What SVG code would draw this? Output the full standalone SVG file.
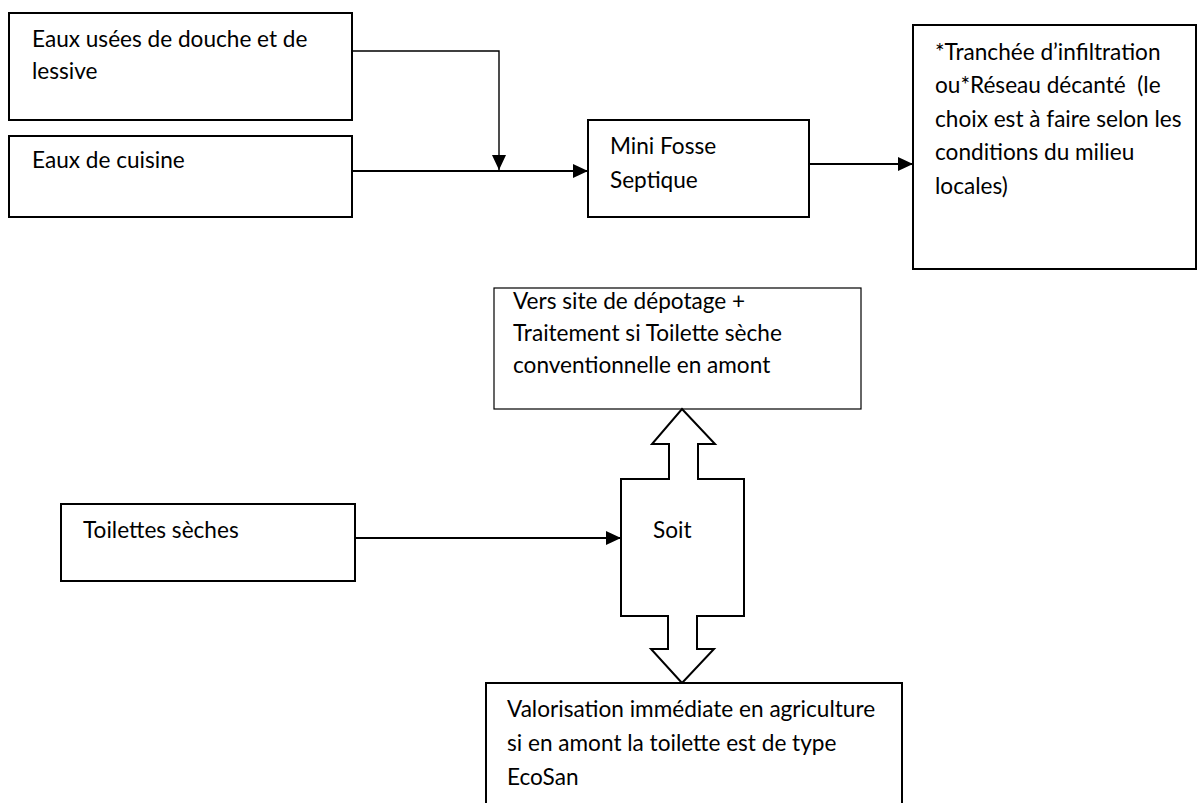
<svg xmlns="http://www.w3.org/2000/svg" width="1198" height="803" viewBox="0 0 1198 803">
  <style>
    .box { fill: #ffffff; stroke: #000000; stroke-width: 2; }
    .thin { fill: #ffffff; stroke: #000000; stroke-width: 1.2; }
    .lbl { font-family: Lato, "Liberation Sans", sans-serif; font-size: 22.6px; fill: #000000; }
    .conn { fill: none; stroke: #000000; stroke-width: 2; }
  </style>
  <defs>
    <marker id="arr" viewBox="0 0 15 14" refX="15" refY="7" markerWidth="15" markerHeight="14" markerUnits="userSpaceOnUse" orient="auto">
      <path d="M0,0 L15,7 L0,14 Z" fill="#000000"/>
    </marker>
  </defs>
  <rect width="1198" height="803" fill="#ffffff"/>

  <g id="connectors">
    <path class="conn" style="stroke-width:1.4" d="M352,51 H499 V170" marker-end="url(#arr)"/>
    <path class="conn" d="M352,171 H588" marker-end="url(#arr)"/>
    <path class="conn" d="M809,164 H913" marker-end="url(#arr)"/>
    <path class="conn" d="M355,538 H621" marker-end="url(#arr)"/>
  </g>

  <g id="node-douche">
    <rect class="box" x="9" y="13" width="343" height="107"/>
    <text class="lbl" x="32" y="47">Eaux usées de douche et de</text>
    <text class="lbl" x="32" y="79">lessive</text>
  </g>

  <g id="node-cuisine">
    <rect class="box" x="9" y="136" width="343" height="81"/>
    <text class="lbl" x="32" y="168">Eaux de cuisine</text>
  </g>

  <g id="node-fosse">
    <rect class="box" x="588" y="120" width="221" height="97"/>
    <text class="lbl" x="610" y="154">Mini Fosse</text>
    <text class="lbl" x="610" y="188">Septique</text>
  </g>

  <g id="node-tranchee">
    <rect class="box" x="913" y="25" width="283" height="244"/>
    <text class="lbl" x="935" y="60">*Tranchée d’infiltration</text>
    <text class="lbl" x="935" y="93" xml:space="preserve">ou*Réseau décanté  (le</text>
    <text class="lbl" x="935" y="127">choix est à faire selon les</text>
    <text class="lbl" x="935" y="160">conditions du milieu</text>
    <text class="lbl" x="935" y="194">locales)</text>
  </g>

  <g id="node-depotage">
    <rect class="thin" x="494" y="288" width="367" height="121"/>
    <text class="lbl" x="513" y="309">Vers site de dépotage +</text>
    <text class="lbl" x="513" y="341">Traitement si Toilette sèche</text>
    <text class="lbl" x="513" y="373">conventionnelle en amont</text>
  </g>

  <g id="node-toilettes">
    <rect class="box" x="61" y="504" width="294" height="77"/>
    <text class="lbl" x="83" y="538">Toilettes sèches</text>
  </g>

  <g id="node-soit">
    <polygon class="box" points="682,409 715,444 698,444 698,479 744,479 744,616 697,616 697,649 714,649 682,683 651,649 668,649 668,616 621,616 621,479 669,479 669,444 652,444"/>
    <text class="lbl" x="653" y="538">Soit</text>
  </g>

  <g id="node-valorisation">
    <rect class="box" x="486" y="683" width="416" height="130"/>
    <text class="lbl" x="507" y="717">Valorisation immédiate en agriculture</text>
    <text class="lbl" x="507" y="751">si en amont la toilette est de type</text>
    <text class="lbl" x="507" y="785">EcoSan</text>
  </g>
</svg>
